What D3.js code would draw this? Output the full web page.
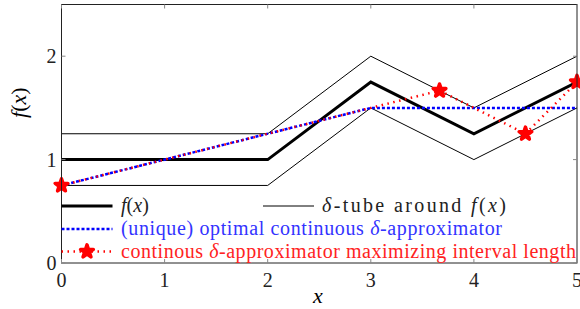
<!DOCTYPE html>
<html>
<head>
<meta charset="utf-8">
<script src="https://cdn.jsdelivr.net/npm/d3@7"></script>
<style>
  body { margin: 0; background: #fff; }
</style>
</head>
<body>
<div id="chart"></div>
<script>
// data
const fX = [0, 2, 3, 4, 5];
const fY = [1, 1, 1.75, 1.25, 1.75];
const delta = 0.25;
const blueX = [0, 3, 5];
const blueY = [0.75, 1.5, 1.5];
const redX = [0, 3, 11 / 3, 4.5, 5];
const redY = [0.75, 1.5, 5 / 3, 1.25, 1.75];
const markX = [0, 11 / 3, 4.5, 5];
const markY = [0.75, 5 / 3, 1.25, 1.75];
const xTicks = [0, 1, 2, 3, 4, 5];
const yTicks = [0, 1, 2];

const width = 580, height = 309;
const margin = { top: 4.5, right: 3, bottom: 46, left: 61.5 };
const serif = "'Liberation Serif', 'DejaVu Serif', 'Times New Roman', Times, serif";

const svg = d3.select('#chart').append('svg')
	.attr('width', width)
	.attr('height', height)
	.attr('font-family', serif);

const x = d3.scaleLinear().domain([0, 5]).range([margin.left, width - margin.right]);
const y = d3.scaleLinear().domain([0, 2.5]).range([height - margin.bottom, margin.top]);

const line = d3.line().x(d => x(d[0])).y(d => y(d[1]));
const pts = (xs, ys) => xs.map((v, i) => [v, ys[i]]);

// clip
svg.append('clipPath').attr('id', 'clip')
	.append('rect')
	.attr('x', margin.left).attr('y', margin.top)
	.attr('width', x(5) - x(0)).attr('height', y(0) - y(2.5));

const plot = svg.append('g').attr('clip-path', 'url(#clip)');

// tube
plot.append('path')
	.attr('d', line(pts(fX, fY.map(v => v + delta))))
	.attr('fill', 'none').attr('stroke', '#000').attr('stroke-width', 1);
plot.append('path')
	.attr('d', line(pts(fX, fY.map(v => v - delta))))
	.attr('fill', 'none').attr('stroke', '#000').attr('stroke-width', 1);

// f(x)
plot.append('path')
	.attr('d', line(pts(fX, fY)))
	.attr('fill', 'none').attr('stroke', '#000').attr('stroke-width', 3);

// blue optimal
plot.append('path')
	.attr('d', line(pts(blueX, blueY)))
	.attr('fill', 'none').attr('stroke', '#0000ff').attr('stroke-width', 2.5)
	.attr('stroke-dasharray', '3,2');

// red
plot.append('path')
	.attr('d', line(pts(redX, redY)))
	.attr('fill', 'none').attr('stroke', '#ff0000').attr('stroke-width', 2.5)
	.attr('stroke-dasharray', '1.5,4.5');

const star = d3.symbol().type(d3.symbolStar).size(50);
svg.selectAll('.mark').data(pts(markX, markY)).enter()
	.append('path')
	.attr('class', 'mark')
	.attr('d', star)
	.attr('transform', d => `translate(${x(d[0])},${y(d[1])})`)
	.attr('fill', '#ff0000').attr('stroke', '#ff0000').attr('stroke-width', 3.5)
	.attr('stroke-linejoin', 'round');

// frame
svg.append('rect')
	.attr('x', x(0)).attr('y', y(2.5))
	.attr('width', x(5) - x(0)).attr('height', y(0) - y(2.5))
	.attr('fill', 'none').attr('stroke', '#222').attr('stroke-width', 1);

// ticks (inward, all four sides)
const tk = 4;
const tg = svg.append('g').attr('stroke', '#888').attr('stroke-width', 1);
xTicks.forEach(t => {
	tg.append('line').attr('x1', x(t)).attr('x2', x(t)).attr('y1', y(0)).attr('y2', y(0) - tk);
	tg.append('line').attr('x1', x(t)).attr('x2', x(t)).attr('y1', y(2.5)).attr('y2', y(2.5) + tk);
});
yTicks.forEach(t => {
	tg.append('line').attr('y1', y(t)).attr('y2', y(t)).attr('x1', x(0)).attr('x2', x(0) + tk);
	tg.append('line').attr('y1', y(t)).attr('y2', y(t)).attr('x1', x(5)).attr('x2', x(5) - tk);
});

// tick labels
svg.selectAll('.xt').data(xTicks).enter().append('text')
	.attr('x', d => x(d)).attr('y', y(0) + 24)
	.attr('text-anchor', 'middle').attr('font-size', 20)
	.attr('fill', '#222')
	.text(d => d);
svg.selectAll('.yt').data(yTicks).enter().append('text')
	.attr('x', x(0) - 5).attr('y', d => y(d) + 7)
	.attr('text-anchor', 'end').attr('font-size', 20)
	.attr('fill', '#222')
	.text(d => d);

// axis labels
svg.append('text')
	.attr('x', 318).attr('y', 303)
	.attr('text-anchor', 'middle').attr('font-size', 22).attr('font-style', 'italic')
	.text('x');
const yl = svg.append('text')
	.attr('transform', 'translate(26,' + y(1.55) + ') rotate(-90)')
	.attr('text-anchor', 'middle').attr('font-size', 22);
yl.append('tspan').attr('font-style', 'italic').text('f');
yl.append('tspan').text('(');
yl.append('tspan').attr('font-style', 'italic').text('x');
yl.append('tspan').text(')');

// legend
const lg = svg.append('g');
const fs = 20;
function mathText(g, xx, yy, parts, color, len) {
	const t = g.append('text').attr('x', xx).attr('y', yy + 6).attr('font-size', fs).attr('fill', color);
	if (len) t.attr('textLength', len).attr('lengthAdjust', 'spacing');
	parts.forEach(p => t.append('tspan').attr('font-style', p[1] ? 'italic' : 'normal').text(p[0]));
	return t;
}
// row 1
lg.append('line').attr('x1', 61.5).attr('x2', 112.5).attr('y1', 206).attr('y2', 206)
	.attr('stroke', '#000').attr('stroke-width', 3);
mathText(lg, 121, 206, [['f', 1], ['(', 0], ['x', 1], [')', 0]], '#222');
lg.append('line').attr('x1', 263).attr('x2', 314).attr('y1', 206).attr('y2', 206)
	.attr('stroke', '#000').attr('stroke-width', 1);
mathText(lg, 322, 206, [['δ', 1], ['-tube around ', 0], ['f', 1], ['(', 0], ['x', 1], [')', 0]], '#222', 184);
// row 2
lg.append('line').attr('x1', 61.5).attr('x2', 112.5).attr('y1', 229).attr('y2', 229)
	.attr('stroke', '#0000ff').attr('stroke-width', 2.5).attr('stroke-dasharray', '3,2');
mathText(lg, 121, 229, [['(unique) optimal continuous ', 0], ['δ', 1], ['-approximator', 0]], '#3333ff', 381);
// row 3
lg.append('line').attr('x1', 61.5).attr('x2', 112.5).attr('y1', 251.5).attr('y2', 251.5)
	.attr('stroke', '#ff0000').attr('stroke-width', 2.5).attr('stroke-dasharray', '1.5,4.5');
lg.append('path').attr('d', star).attr('transform', 'translate(87,251.5)')
	.attr('fill', '#ff0000').attr('stroke', '#ff0000').attr('stroke-width', 3.5).attr('stroke-linejoin', 'round');
mathText(lg, 121, 251.5, [['continous ', 0], ['δ', 1], ['-approximator maximizing interval length', 0]], '#ff2222', 455);
</script>
</body>
</html>
